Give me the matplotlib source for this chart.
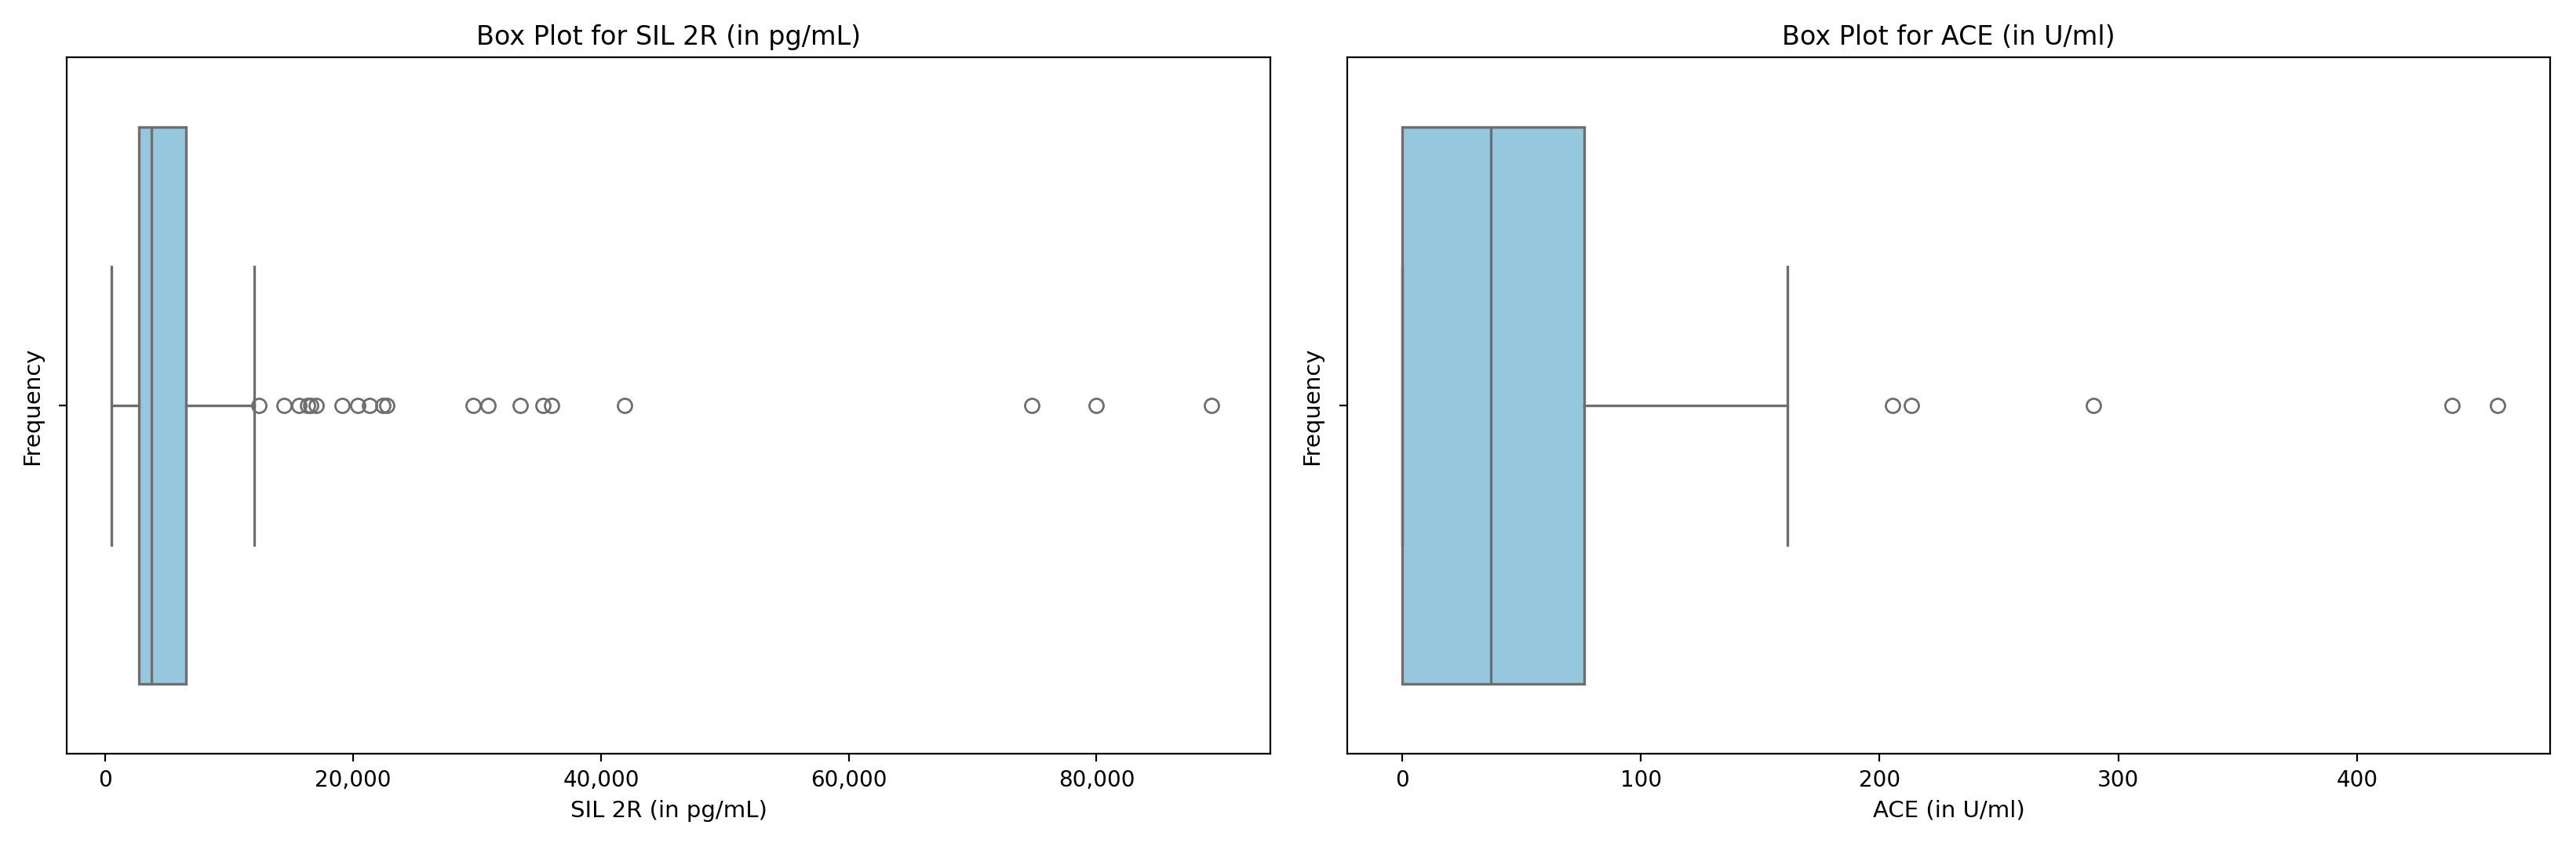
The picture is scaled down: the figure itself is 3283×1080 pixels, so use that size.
import matplotlib
matplotlib.use("Agg")
import matplotlib.pyplot as plt
from matplotlib.ticker import FuncFormatter

sil_stats = dict(whislo=500, q1=2700, med=3700, q3=6500, whishi=12000)
sil_outliers = [12400, 14400, 15600, 16300, 16600, 17000, 19100, 20400, 21300, 22400,
                22700, 29700, 30900, 33500, 35300, 36000, 41900, 74800, 80000, 89300]
ace_stats = dict(whislo=0, q1=0, med=37.2, q3=76.4, whishi=161.5)
ace_outliers = [205.6, 213.3, 289.7, 439.9, 458.8]

fig = plt.figure(figsize=(16.415, 5.4), dpi=200)
ax1 = fig.add_axes([0.026, 0.11, 0.467, 0.822])
ax2 = fig.add_axes([0.523, 0.11, 0.467, 0.822])

gray = '#6e6e6e'
def draw(ax, stats, outl, title, xlabel):
    s = dict(stats); s['fliers'] = outl
    ax.bxp([s], positions=[0], widths=0.8, vert=False, patch_artist=True,
           boxprops=dict(facecolor='#95c8de', edgecolor=gray, linewidth=1.2),
           medianprops=dict(color=gray, linewidth=1.2),
           whiskerprops=dict(color=gray, linewidth=1.2),
           capprops=dict(color=gray, linewidth=1.2),
           flierprops=dict(marker='o', markerfacecolor='none', markeredgecolor=gray, markersize=6.5),
           capwidths=0.4)
    ax.set_ylim(0.5, -0.5)
    ax.set_yticks([0]); ax.set_yticklabels([''])
    ax.set_ylabel('Frequency', fontsize=10.5)
    ax.set_xlabel(xlabel, fontsize=10.5)
    ax.set_title(title, fontsize=12)

draw(ax1, sil_stats, sil_outliers, 'Box Plot for SIL 2R (in pg/mL)', 'SIL 2R (in pg/mL)')
ax1.set_xlim(-3100, 94000)
ax1.set_xticks([0, 20000, 40000, 60000, 80000])
ax1.xaxis.set_major_formatter(FuncFormatter(lambda v, p: f'{int(v):,}'))
draw(ax2, ace_stats, ace_outliers, 'Box Plot for ACE (in U/ml)', 'ACE (in U/ml)')
ax2.set_xlim(-23, 481)
ax2.set_xticks([0, 100, 200, 300, 400])
fig.savefig('out.png', dpi=200)
